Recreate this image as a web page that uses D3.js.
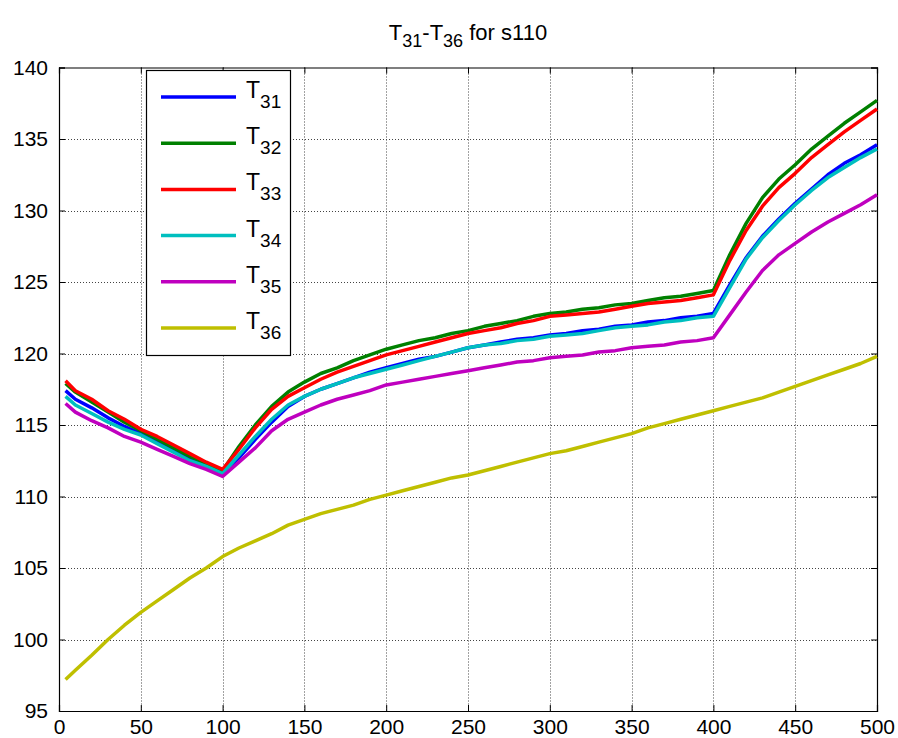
<!DOCTYPE html>
<html>
<head>
<meta charset="utf-8">
<script src="https://cdn.jsdelivr.net/npm/d3@7"></script>
<style>
  body { margin: 0; background: #fff; }
  svg { display: block; font-family: "Liberation Sans", Arial, sans-serif; }
</style>
</head>
<body>
<div id="chart"></div>
<script>

// sample positions (x)
var xs = [4, 10, 20, 30, 40, 50, 60, 70, 80, 90, 100,
	110, 120, 130, 140, 150, 160, 170, 180, 190, 200,
	210, 220, 230, 240, 250, 260, 270, 280, 290, 300,
	310, 320, 330, 340, 350, 360, 370, 380, 390, 400,
	410, 420, 430, 440, 450, 460, 470, 480, 490, 500]

var t31 = [117.4, 116.8, 116.2, 115.5, 114.9, 114.4, 113.8, 113.2, 112.6, 112.2, 111.7,
	112.7, 114.0, 115.2, 116.3, 117.0, 117.5, 117.9, 118.3, 118.7, 119.0,
	119.3, 119.6, 119.8, 120.1, 120.4, 120.6, 120.8, 121.0, 121.1, 121.3,
	121.4, 121.6, 121.7, 121.9, 122.0, 122.2, 122.3, 122.5, 122.6, 122.8,
	124.8, 126.7, 128.2, 129.4, 130.5, 131.5, 132.5, 133.3, 133.9, 134.6]

var t32 = [117.9, 117.3, 116.6, 115.9, 115.2, 114.6, 114.0, 113.4, 112.8, 112.3, 111.8,
	113.5, 115.0, 116.3, 117.3, 118.0, 118.6, 119.0, 119.5, 119.9, 120.3,
	120.6, 120.9, 121.1, 121.4, 121.6, 121.9, 122.1, 122.3, 122.6, 122.8,
	122.9, 123.1, 123.2, 123.4, 123.5, 123.7, 123.9, 124.0, 124.2, 124.4,
	126.9, 129.1, 130.9, 132.2, 133.2, 134.3, 135.2, 136.1, 136.9, 137.7]

var t33 = [118.1, 117.4, 116.8, 116.0, 115.4, 114.7, 114.2, 113.6, 113.0, 112.4, 111.9,
	113.3, 114.8, 116.1, 117.0, 117.6, 118.2, 118.7, 119.1, 119.5, 119.9,
	120.2, 120.5, 120.8, 121.1, 121.4, 121.6, 121.8, 122.1, 122.3, 122.6,
	122.7, 122.8, 122.9, 123.1, 123.3, 123.5, 123.6, 123.7, 123.9, 124.1,
	126.5, 128.6, 130.3, 131.6, 132.6, 133.7, 134.6, 135.5, 136.3, 137.1]

var t34 = [117.0, 116.4, 115.8, 115.2, 114.7, 114.3, 113.7, 113.1, 112.5, 112.1, 111.6,
	112.9, 114.2, 115.4, 116.4, 117.0, 117.5, 117.9, 118.3, 118.6, 118.9,
	119.2, 119.5, 119.8, 120.1, 120.4, 120.6, 120.7, 120.9, 121.0, 121.2,
	121.3, 121.4, 121.6, 121.8, 121.9, 122.0, 122.2, 122.3, 122.5, 122.6,
	124.6, 126.6, 128.1, 129.3, 130.4, 131.4, 132.3, 133.0, 133.7, 134.3]

var t35 = [116.5, 115.9, 115.3, 114.8, 114.2, 113.8, 113.3, 112.8, 112.3, 111.9, 111.4,
	112.4, 113.4, 114.6, 115.4, 115.9, 116.4, 116.8, 117.1, 117.4, 117.8,
	118.0, 118.2, 118.4, 118.6, 118.8, 119.0, 119.2, 119.4, 119.5, 119.7,
	119.8, 119.9, 120.1, 120.2, 120.4, 120.5, 120.6, 120.8, 120.9, 121.1,
	122.7, 124.3, 125.8, 126.9, 127.7, 128.5, 129.2, 129.8, 130.4, 131.1]

var t36 = [97.2, 97.85, 98.9, 100.0, 101.0, 101.9, 102.7, 103.5, 104.3, 105.0, 105.8,
	106.4, 106.9, 107.4, 108.0, 108.4, 108.8, 109.1, 109.4, 109.8, 110.1,
	110.4, 110.7, 111.0, 111.3, 111.5, 111.8, 112.1, 112.4, 112.7, 113.0,
	113.2, 113.5, 113.8, 114.1, 114.4, 114.8, 115.1, 115.4, 115.7, 116.0,
	116.3, 116.6, 116.9, 117.3, 117.7, 118.1, 118.5, 118.9, 119.3, 119.8]

var seriesNames = ["31", "32", "33", "34", "35", "36"]
var seriesValues = [t31, t32, t33, t34, t35, t36]

var xTicks = [0, 50, 100, 150, 200, 250, 300, 350, 400, 450, 500]
var yTicks = [95, 100, 105, 110, 115, 120, 125, 130, 135, 140]

var colors = ["#0000ff", "#008000", "#ff0000", "#00bfbf", "#bf00bf", "#bfbf00"]

var width = 898
var height = 738

// plot box edges (window.top is read-only, so use other names)
var plotL = 59, plotR = 877, plotT = 67.5, plotB = 711

var x = d3.scaleLinear().domain([0, 500]).range([plotL, plotR])
var y = d3.scaleLinear().domain([95, 140]).range([plotB, plotT])

var svg = d3.select("#chart")
	.append("svg")
	.attr("width", width)
	.attr("height", height)

svg.append("rect")
	.attr("width", width)
	.attr("height", height)
	.attr("fill", "#fff")

// dotted grid
var grid = svg.append("g")
	.attr("stroke", "#444")
	.attr("stroke-width", 1)
	.attr("stroke-dasharray", "1,2")

grid.selectAll("line.gx")
	.data(xTicks.slice(1, -1))
	.join("line")
	.attr("class", "gx")
	.attr("x1", d => Math.round(x(d)) + 0.5)
	.attr("x2", d => Math.round(x(d)) + 0.5)
	.attr("y1", plotT)
	.attr("y2", plotB)

grid.selectAll("line.gy")
	.data(yTicks.slice(1, -1))
	.join("line")
	.attr("class", "gy")
	.attr("y1", d => Math.round(y(d)) + 0.5)
	.attr("y2", d => Math.round(y(d)) + 0.5)
	.attr("x1", plotL)
	.attr("x2", plotR)

// axes with inward ticks on all four sides
var fontSize = 21

svg.append("g")
	.attr("transform", `translate(0,${plotB})`)
	.call(d3.axisBottom(x).tickValues(xTicks).tickSize(-6).tickPadding(8))

svg.append("g")
	.attr("transform", `translate(${plotL},0)`)
	.call(d3.axisLeft(y).tickValues(yTicks).tickSize(-6).tickPadding(11))

svg.append("g")
	.attr("transform", `translate(0,${plotT})`)
	.call(d3.axisTop(x).tickValues(xTicks).tickSize(-6).tickFormat(""))

svg.append("g")
	.attr("transform", `translate(${plotR},0)`)
	.call(d3.axisRight(y).tickValues(yTicks).tickSize(-6).tickFormat(""))

svg.selectAll(".domain").attr("stroke", "#000").attr("stroke-width", 1.2)
svg.selectAll(".tick line").attr("stroke", "#000")
svg.selectAll(".tick text")
	.attr("font-family", "Liberation Sans, Arial, sans-serif")
	.attr("font-size", fontSize)
	.attr("fill", "#000")

// data lines
var line = d3.line()
	.x((d, i) => x(xs[i]))
	.y(d => y(d))

svg.append("g")
	.attr("fill", "none")
	.attr("stroke-width", 3.5)
	.attr("stroke-linejoin", "round")
	.selectAll("path")
	.data(seriesValues)
	.join("path")
	.attr("stroke", (d, i) => colors[i])
	.attr("d", line)

// title
var title = svg.append("text")
	.attr("x", (plotL + plotR) / 2)
	.attr("y", 40)
	.attr("text-anchor", "middle")
	.attr("font-size", 22)
	.attr("fill", "#000")

title.append("tspan").text("T")
title.append("tspan").attr("font-size", 18).attr("dy", 7).text("31")
title.append("tspan").attr("dy", -7).text("-T")
title.append("tspan").attr("font-size", 18).attr("dy", 7).text("36")
title.append("tspan").attr("dy", -7).text(" for s110")

// legend
var legend = svg.append("g")

legend.append("rect")
	.attr("x", 146.5)
	.attr("y", 70.5)
	.attr("width", 144)
	.attr("height", 285)
	.attr("fill", "#fff")
	.attr("stroke", "#000")
	.attr("stroke-width", 1.2)

var rows = legend.selectAll("g.row")
	.data(seriesNames)
	.join("g")
	.attr("class", "row")
	.attr("transform", (d, i) => `translate(0,${97 + i * 46.2})`)

rows.append("line")
	.attr("x1", 161)
	.attr("x2", 236)
	.attr("stroke", (d, i) => colors[i])
	.attr("stroke-width", 3.5)

var labels = rows.append("text")
	.attr("x", 246)
	.attr("y", 1)
	.attr("font-size", 23)
	.attr("fill", "#000")

labels.append("tspan").text("T")
labels.append("tspan")
	.attr("font-size", 19)
	.attr("dy", 10)
	.text(d => d)

</script>
</body>
</html>
